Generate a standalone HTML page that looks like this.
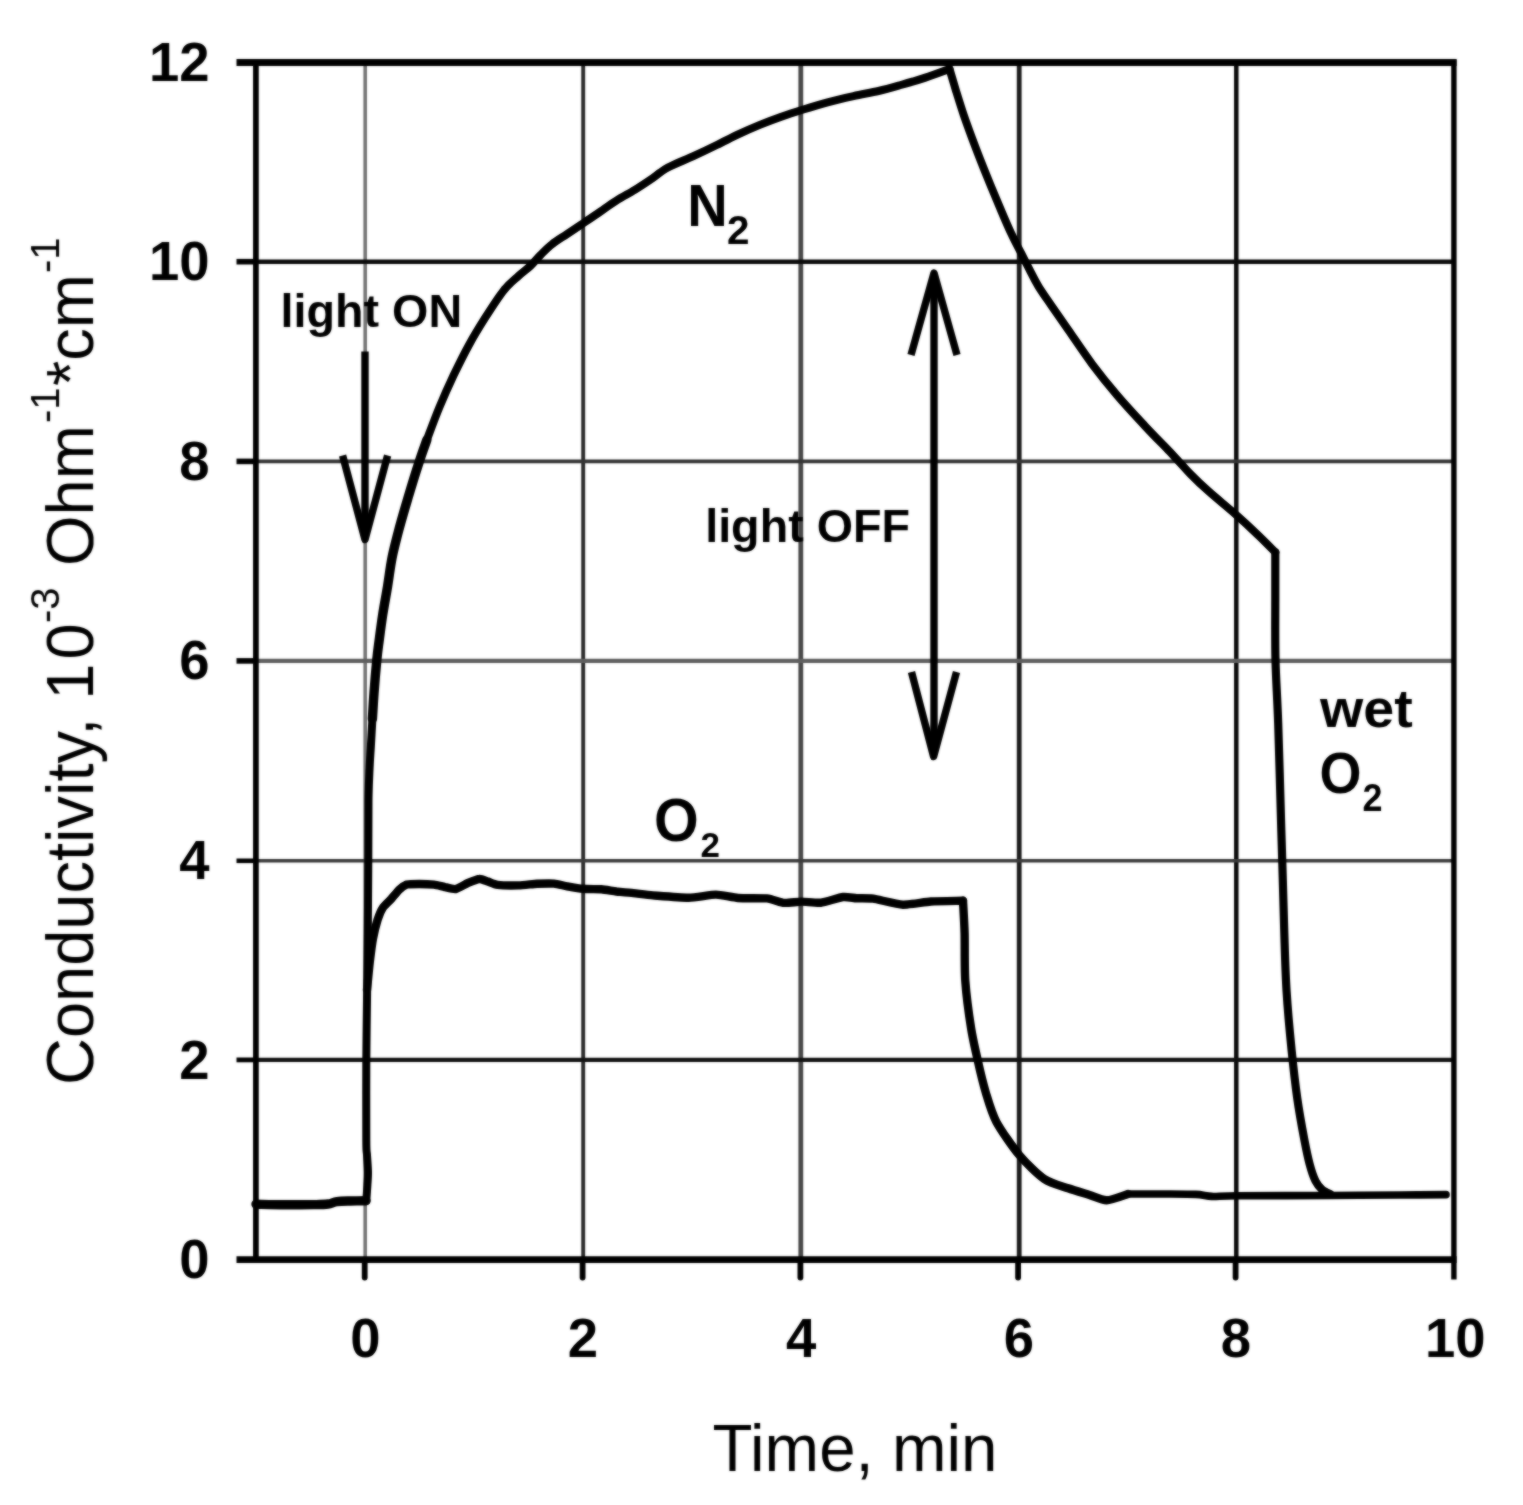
<!DOCTYPE html>
<html lang="en">
<head>
<meta charset="utf-8">
<title>Conductivity vs Time</title>
<style>
html,body{margin:0;padding:0;background:#fff;}
body{width:1523px;height:1505px;overflow:hidden;}
svg{display:block;}
text{font-family:"Liberation Sans",Arial,Helvetica,sans-serif;fill:#000;}
.tick{font-weight:bold;font-size:55.4px;}
.ann{font-weight:bold;font-size:47px;}
.lab{font-weight:bold;font-size:58px;}
.sub{font-weight:bold;font-size:38px;}
.ttl{font-size:65px;}
.sup{font-size:40px;}
</style>
</head>
<body>
<svg width="1523" height="1505" viewBox="0 0 1523 1505">
<defs><filter id="soft" x="0" y="0" width="1523" height="1505" filterUnits="userSpaceOnUse" color-interpolation-filters="sRGB"><feGaussianBlur in="SourceGraphic" stdDeviation="1.0" result="b"/><feComposite in="SourceGraphic" in2="b" operator="arithmetic" k1="0" k2="0.4" k3="0.6" k4="0"/></filter></defs>
<rect width="1523" height="1505" fill="#fff"/>
<g id="chart" filter="url(#soft)">
<g id="grid" fill="none">
  <line x1="365.2" y1="62.5" x2="365.2" y2="1259.7" stroke="#747474" stroke-width="3.6"/>
  <line x1="583.2" y1="62.5" x2="583.2" y2="1259.7" stroke="#2a2a2a" stroke-width="3.9"/>
  <line x1="800.8" y1="62.5" x2="800.8" y2="1259.7" stroke="#484848" stroke-width="4.8"/>
  <line x1="1019.2" y1="62.5" x2="1019.2" y2="1259.7" stroke="#1c1c1c" stroke-width="4.8"/>
  <line x1="1236.3" y1="62.5" x2="1236.3" y2="1259.7" stroke="#0a0a0a" stroke-width="4.5"/>
  <line x1="255.9" y1="261.7" x2="1453.9" y2="261.7" stroke="#0a0a0a" stroke-width="4.5"/>
  <line x1="255.9" y1="461.4" x2="1453.9" y2="461.4" stroke="#333" stroke-width="3.6"/>
  <line x1="255.9" y1="660.9" x2="1453.9" y2="660.9" stroke="#5e5e5e" stroke-width="4.3"/>
  <line x1="255.9" y1="860.8" x2="1453.9" y2="860.8" stroke="#3a3a3a" stroke-width="3.4"/>
  <line x1="255.9" y1="1059.9" x2="1453.9" y2="1059.9" stroke="#111" stroke-width="4.2"/>
</g>
<g id="frame" fill="none" stroke="#000">
  <line x1="236.5" y1="62.5" x2="1456.6" y2="62.5" stroke-width="7"/>
  <line x1="236.5" y1="1259.7" x2="1456.6" y2="1259.7" stroke-width="6.8"/>
  <line x1="255.9" y1="59.5" x2="255.9" y2="1262.7" stroke-width="5.7"/>
  <line x1="1453.9" y1="59.5" x2="1453.9" y2="1279.5" stroke-width="5.4"/>
</g>
<g id="ticks" fill="none" stroke="#000" stroke-linecap="butt">
  <line x1="236.5" y1="261.7" x2="255.9" y2="261.7" stroke-width="5.6"/>
  <line x1="236.5" y1="461.4" x2="255.9" y2="461.4" stroke-width="5.6"/>
  <line x1="236.5" y1="660.9" x2="255.9" y2="660.9" stroke-width="5.6"/>
  <line x1="236.5" y1="860.8" x2="255.9" y2="860.8" stroke-width="4.6"/>
  <line x1="236.5" y1="1059.9" x2="255.9" y2="1059.9" stroke-width="4.8"/>
  <line x1="364.7" y1="1259.7" x2="364.7" y2="1277.6" stroke-width="5.8" stroke-linecap="round"/>
  <line x1="582.6" y1="1259.7" x2="582.6" y2="1277.6" stroke-width="5.8" stroke-linecap="round"/>
  <line x1="800.4" y1="1259.7" x2="800.4" y2="1277.6" stroke-width="5.8" stroke-linecap="round"/>
  <line x1="1018.1" y1="1259.7" x2="1018.1" y2="1277.6" stroke-width="5.8" stroke-linecap="round"/>
  <line x1="1235.6" y1="1259.7" x2="1235.6" y2="1277.6" stroke-width="5.8" stroke-linecap="round"/>
</g>
<g id="curves" fill="none" stroke="#000" stroke-linejoin="round" stroke-linecap="round">
  <path stroke-width="9.4" d="M256.0,1204.2 C260.8,1204.3 275.2,1204.7 285.0,1204.8 C294.8,1204.9 307.8,1204.7 315.0,1204.6 C322.2,1204.5 324.3,1204.5 328.0,1204.0 C331.7,1203.5 333.3,1202.1 337.0,1201.6 C340.7,1201.1 345.2,1201.1 350.0,1201.0 C354.8,1200.9 363.3,1200.8 366.0,1200.8"/>
  <path stroke-width="8" d="M366.3,1200.8 C366.5,1198.2 367.1,1189.8 367.4,1185.0 C367.7,1180.2 368.1,1177.0 368.0,1172.0 C367.9,1167.0 367.3,1160.3 367.0,1155.0 C366.7,1149.7 366.4,1155.8 366.3,1140.0 C366.2,1124.2 366.2,1083.3 366.3,1060.0 C366.4,1036.7 366.8,1021.7 367.0,1000.0 C367.2,978.3 367.6,953.3 367.8,930.0 C368.0,906.7 368.2,881.7 368.3,860.0 C368.4,838.3 368.3,815.3 368.5,800.0 C368.7,784.7 369.2,777.0 369.6,768.0 C370.0,759.0 370.4,754.2 370.9,746.0 C371.4,737.8 372.1,723.5 372.4,719.0"/>
  <path stroke-width="9.4" d="M372.4,719.0 C372.7,714.7 373.3,703.0 374.0,693.2 C374.7,683.4 376.0,668.1 376.8,660.0 C377.6,651.9 377.6,652.1 378.6,644.7 C379.6,637.3 381.1,625.1 382.6,615.4 C384.1,605.6 386.0,595.9 387.6,586.2 C389.2,576.5 390.2,566.8 392.2,557.0 C394.2,547.2 396.8,537.5 399.4,527.7 C402.0,518.0 404.5,509.6 407.8,498.5 C411.1,487.4 416.2,470.9 419.4,461.2 C422.6,451.4 425.6,443.5 426.8,440.0"/>
  <path stroke-width="8" d="M426.8,440.0 C428.9,434.5 434.9,418.0 439.4,407.2 C443.9,396.4 448.7,385.7 453.6,375.3 C458.6,364.9 463.7,354.5 469.1,344.7 C474.5,334.8 480.4,325.3 486.2,316.2 C492.0,307.1 498.5,296.9 503.9,290.2 C509.2,283.5 513.8,280.2 518.2,276.2 C522.6,272.1 526.5,269.6 530.3,266.0 C534.1,262.4 537.3,258.2 540.9,254.6 C544.6,250.9 547.8,247.5 552.2,244.1 C556.5,240.6 561.8,237.6 567.0,234.1 C572.3,230.6 578.0,226.8 583.6,223.0 C589.2,219.3 595.2,215.1 600.7,211.4 C606.1,207.6 610.7,204.1 616.4,200.6 C622.1,197.0 629.2,193.3 634.8,189.9 C640.5,186.4 644.8,183.5 650.3,179.8 C655.8,176.1 660.7,171.5 667.9,167.6 C675.1,163.6 685.3,159.9 693.4,156.1 C701.6,152.4 709.3,148.7 716.8,145.0 C724.3,141.4 731.5,137.6 738.7,134.2 C745.9,130.8 752.7,127.8 759.8,124.9 C766.9,122.0 774.1,119.2 781.3,116.7 C788.4,114.1 794.7,112.1 802.5,109.7 C810.2,107.3 819.1,104.6 827.6,102.3 C836.1,100.0 845.0,98.0 853.5,96.1 C862.0,94.2 870.6,92.8 878.5,91.0 C886.4,89.1 893.0,87.2 900.8,85.0 C908.7,82.8 917.3,80.3 925.4,77.6 C933.5,75.0 945.5,70.4 949.5,69.0"/>
  <path stroke-width="8" d="M949.5,69.0 C950.6,72.6 953.7,83.1 956.0,90.8 C958.4,98.5 961.1,107.2 963.8,115.3 C966.6,123.5 969.6,131.6 972.6,139.7 C975.6,147.7 978.6,155.6 981.8,163.6 C984.9,171.6 988.2,179.5 991.5,187.5 C994.8,195.5 998.2,203.6 1001.5,211.4 C1004.8,219.2 1008.2,227.2 1011.5,234.1 C1014.7,241.0 1018.0,247.0 1021.0,252.9 C1024.0,258.8 1026.5,263.8 1029.4,269.4 C1032.3,275.0 1034.9,280.5 1038.6,286.6 C1042.3,292.6 1046.5,298.4 1051.5,305.7 C1056.6,313.0 1061.9,320.8 1068.7,330.5 C1075.5,340.3 1084.3,353.6 1092.3,364.3 C1100.4,375.1 1108.2,384.8 1117.0,395.1 C1125.7,405.4 1135.3,415.6 1144.9,425.9 C1154.4,436.1 1166.5,448.2 1174.2,456.4 C1181.9,464.5 1185.2,468.9 1191.0,474.7 C1196.7,480.6 1201.5,485.1 1208.9,491.6 C1216.2,498.1 1226.8,506.6 1234.9,513.7 C1243.1,520.9 1251.1,528.3 1257.8,534.8 C1264.5,541.2 1272.4,549.4 1275.3,552.3"/>
  <path stroke-width="8.2" d="M1275.3,552.3 C1275.3,560.2 1275.3,582.0 1275.3,600.0 C1275.3,618.0 1275.0,639.4 1275.5,660.0 C1276.0,680.6 1277.2,695.4 1278.2,723.7 C1279.2,752.0 1280.5,804.0 1281.3,830.0 C1282.1,856.0 1282.3,862.8 1282.8,880.0 C1283.3,897.2 1283.7,914.6 1284.3,933.2 C1284.9,951.8 1285.4,972.1 1286.6,991.6 C1287.8,1011.1 1289.8,1032.4 1291.6,1050.1 C1293.4,1067.8 1295.1,1082.9 1297.2,1097.9 C1299.3,1112.9 1302.3,1129.0 1304.4,1140.0 C1306.5,1151.0 1307.8,1157.2 1309.6,1164.0 C1311.4,1170.8 1313.4,1176.8 1315.5,1181.0 C1317.6,1185.2 1319.4,1187.2 1322.0,1189.5 C1324.6,1191.8 1329.5,1193.7 1331.0,1194.5"/>
  <path stroke-width="8.4" d="M367.0,990.0 C367.3,987.3 369.1,967.7 369.7,962.6 C370.3,957.5 372.1,943.3 372.9,939.0 C373.7,934.7 376.6,922.9 377.6,919.7 C378.6,916.6 381.6,909.6 383.0,907.5 C384.3,905.4 389.7,900.6 391.3,898.9 C392.9,897.1 397.5,891.2 399.1,889.8 C400.6,888.3 404.8,885.1 406.8,884.5 C408.8,884.0 416.5,884.0 419.3,884.0 C422.0,884.0 431.4,884.4 434.0,884.7 C436.5,885.0 442.5,886.6 444.6,887.0 C446.8,887.5 453.3,889.4 455.6,889.0 C458.0,888.6 465.7,883.9 468.1,882.9 C470.5,881.9 477.6,879.1 479.5,879.0 C481.5,878.8 486.1,881.0 487.9,881.6 C489.7,882.2 494.6,884.5 497.7,884.9 C500.8,885.3 514.8,885.5 518.7,885.4 C522.6,885.3 533.6,883.9 537.1,883.7 C540.6,883.6 551.1,883.4 554.1,883.6 C557.1,883.9 564.3,885.8 567.2,886.3 C570.0,886.8 579.5,888.5 582.9,888.8 C586.3,889.1 598.0,889.1 601.4,889.3 C604.7,889.6 613.2,891.1 616.4,891.5 C619.6,891.8 629.8,892.7 633.4,893.1 C637.1,893.5 647.4,894.9 652.9,895.4 C658.4,895.8 682.4,897.8 688.7,897.7 C695.0,897.6 711.0,894.6 715.9,894.6 C720.8,894.6 732.9,897.6 738.0,898.0 C743.1,898.4 762.4,898.0 767.0,898.4 C771.7,898.9 780.9,902.6 784.3,902.9 C787.8,903.2 797.9,901.6 801.6,901.6 C805.2,901.6 816.7,903.1 820.8,902.7 C825.0,902.2 839.5,897.4 843.1,897.0 C846.7,896.6 853.6,898.1 856.6,898.3 C859.6,898.4 868.5,898.1 873.2,898.7 C877.8,899.4 897.2,904.4 903.0,904.7 C908.8,904.9 924.9,901.9 930.9,901.5 C936.9,901.1 959.8,900.9 963.0,900.8"/>
  <path stroke-width="8.4" d="M963.0,900.8 C963.2,905.1 964.3,922.5 964.6,933.2 C964.9,943.9 964.4,968.3 965.3,981.0 C966.2,993.7 969.5,1018.2 971.2,1028.8 C972.9,1039.4 975.9,1052.2 977.8,1060.7 C979.7,1069.2 983.3,1084.4 985.8,1092.6 C988.3,1100.8 991.9,1113.6 996.4,1121.9 C1000.9,1130.2 1012.9,1147.5 1019.3,1155.1 C1025.7,1162.7 1037.8,1174.6 1044.3,1179.0 C1050.8,1183.4 1062.2,1186.2 1068.2,1188.3 C1074.2,1190.4 1084.4,1193.4 1089.5,1195.0 C1094.6,1196.6 1101.6,1200.4 1106.7,1200.3 C1111.8,1200.2 1125.2,1194.8 1128.0,1194.0"/>
  <path stroke-width="7.6" d="M1128.0,1194.0 C1132.3,1194.0 1151.0,1193.9 1160.0,1194.0 C1169.0,1194.1 1188.9,1194.1 1195.8,1194.4 C1202.7,1194.7 1206.2,1196.2 1211.7,1196.4 C1217.2,1196.6 1221.2,1195.9 1237.0,1195.8 C1252.8,1195.7 1308.3,1195.6 1330.0,1195.5 C1351.7,1195.4 1384.5,1195.1 1400.0,1195.0 C1415.5,1194.9 1439.9,1194.7 1446.0,1194.6"/>
</g>
<g id="arrows" fill="none" stroke="#000" stroke-width="7.4" stroke-linecap="butt" stroke-linejoin="round">
  <line x1="365" y1="351.5" x2="365" y2="538"/>
  <polyline points="342.6,455.5 365,539.5 387.6,455.5"/>
  <line x1="934" y1="274" x2="934" y2="755"/>
  <polyline points="911,355 934,273 957,355"/>
  <polyline points="911.5,672 933.6,756.5 956.5,672"/>
</g>
<g id="ylabels" class="tick" text-anchor="end">
  <text x="209.6" y="81.0" textLength="60.6" lengthAdjust="spacingAndGlyphs">12</text>
  <text x="209.6" y="280.4" textLength="60.6" lengthAdjust="spacingAndGlyphs">10</text>
  <text x="209.6" y="479.7" textLength="30.3" lengthAdjust="spacingAndGlyphs">8</text>
  <text x="209.6" y="679.3" textLength="30.3" lengthAdjust="spacingAndGlyphs">6</text>
  <text x="209.6" y="878.7" textLength="30.3" lengthAdjust="spacingAndGlyphs">4</text>
  <text x="209.6" y="1078.7" textLength="30.3" lengthAdjust="spacingAndGlyphs">2</text>
  <text x="209.6" y="1277.5" textLength="30.3" lengthAdjust="spacingAndGlyphs">0</text>
</g>
<g id="xlabels" class="tick" text-anchor="middle">
  <text x="365.5" y="1356.6" textLength="30.3" lengthAdjust="spacingAndGlyphs">0</text>
  <text x="583.0" y="1356.6" textLength="30.3" lengthAdjust="spacingAndGlyphs">2</text>
  <text x="801.2" y="1356.6" textLength="30.3" lengthAdjust="spacingAndGlyphs">4</text>
  <text x="1019.0" y="1356.6" textLength="30.3" lengthAdjust="spacingAndGlyphs">6</text>
  <text x="1235.8" y="1356.6" textLength="30.3" lengthAdjust="spacingAndGlyphs">8</text>
  <text x="1455.2" y="1356.6" textLength="60.6" lengthAdjust="spacingAndGlyphs">10</text>
</g>
<g id="annotations">
  <text class="ann" x="280.6" y="327.3" textLength="181.5" lengthAdjust="spacingAndGlyphs">light ON</text>
  <text class="ann" x="705.2" y="542.2" textLength="204.8" lengthAdjust="spacingAndGlyphs">light OFF</text>
  <text class="lab" style="font-size:59px" x="687.3" y="225.6" textLength="40.5" lengthAdjust="spacingAndGlyphs">N</text>
  <text class="sub" style="font-size:41.5px" x="727" y="244.4" textLength="22.5" lengthAdjust="spacingAndGlyphs">2</text>
  <text class="lab" style="font-size:61px" x="654" y="841" textLength="44.7" lengthAdjust="spacingAndGlyphs">O</text>
  <text class="sub" style="font-size:35px" x="700.5" y="856.8">2</text>
  <text class="lab" style="font-size:53.5px" x="1320" y="727.2" textLength="92.8" lengthAdjust="spacingAndGlyphs">wet</text>
  <text class="lab" style="font-size:58px" x="1319.6" y="792.8" textLength="42" lengthAdjust="spacingAndGlyphs">O</text>
  <text class="sub" style="font-size:38.5px" x="1362.6" y="811.2" textLength="20" lengthAdjust="spacingAndGlyphs">2</text>
</g>
<text class="ttl" style="font-size:66.5px" x="712.5" y="1470.5" textLength="285" lengthAdjust="spacingAndGlyphs">Time, min</text>
<g id="ytitle" transform="translate(93.2,1085) rotate(-90) scale(1,1.03)">
  <text class="ttl" x="0" y="0">Conductivity, 1<tspan dx="4">0</tspan></text>
  <text class="sup" x="462" y="-33.5">-3</text>
  <text class="ttl" x="519" y="0">Ohm</text>
  <text class="sup" x="662" y="-33.5">-1</text>
  <text class="ttl" x="699" y="0">*cm</text>
  <text class="sup" x="812" y="-33.5">-1</text>
</g>
</g>
</svg>
</body>
</html>
